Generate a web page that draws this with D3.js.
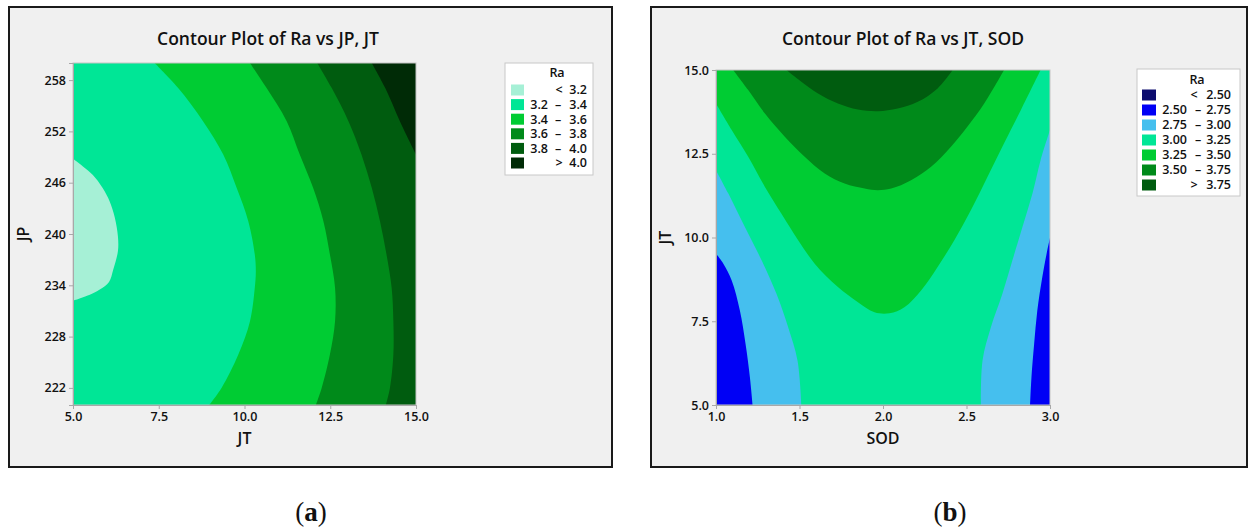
<!DOCTYPE html>
<html>
<head>
<meta charset="utf-8">
<script src="https://cdn.jsdelivr.net/npm/d3@7"></script>
<style>
  body { margin: 0; background: #fff; }
  text { font-family: "Open Sans", "Noto Sans", sans-serif; }
</style>
</head>
<body>
<svg width="1249" height="529"></svg>
<script>
// ---------- panel (a): Ra vs JP, JT ----------
const aBreaks = [3.2, 3.4, 3.6, 3.8, 4.0];
const aColors = ["#a6f0d6", "#00e696", "#00cc33", "#008a1a", "#005c0f", "#002b06"];
const aTicksX = [5, 7.5, 10, 12.5, 15];
const aTicksY = [222, 228, 234, 240, 246, 252, 258];

// contour lines, [JT, JP]
const aBelow32 = [[5, 248.8], [5.29, 247.9], [5.58, 246.9], [5.86, 245.4], [6.07, 243.8], [6.22, 241.9],
  [6.31, 239.7], [6.31, 238.0], [6.17, 235.8], [6.05, 234.4], [5.78, 233.5], [5.49, 232.9], [5, 232.2]];
const aAbove34 = [[7.38, 260], [8.06, 257.1], [8.79, 253.2], [9.38, 249.3], [9.77, 245.4], [10.11, 241.5],
  [10.3, 237.6], [10.33, 235.6], [10.3, 233.7], [10.16, 229.8], [9.82, 225.9], [9.33, 222.0], [8.97, 220]];
const aAbove36 = [[10.16, 260], [10.64, 257.1], [11.23, 253.2], [11.61, 249.3], [12.0, 245.4], [12.3, 241.5],
  [12.49, 237.6], [12.64, 233.7], [12.64, 229.8], [12.49, 225.9], [12.25, 222.0], [12.08, 220]];
const aAbove38 = [[12.12, 260], [12.54, 257.1], [13.03, 253.2], [13.41, 249.3], [13.71, 245.4], [13.95, 241.5],
  [14.14, 237.6], [14.29, 233.7], [14.34, 229.8], [14.34, 225.9], [14.24, 222.0], [14.12, 220]];
const aAbove40 = [[13.71, 260], [14.1, 257.1], [14.53, 253.2], [15, 249.3]];

// ---------- panel (b): Ra vs JT, SOD ----------
const bBreaks = [2.5, 2.75, 3.0, 3.25, 3.5, 3.75];
const bColors = ["#0c0c6e", "#0000f5", "#45bfee", "#00e696", "#00cc33", "#008a1a", "#005c0f"];
const bTicksX = [1, 1.5, 2, 2.5, 3];
const bTicksY = [5, 7.5, 10, 12.5, 15];

// [SOD, JT]
const bLeft275 = [[1.219, 5], [1.203, 5.83], [1.177, 6.82], [1.143, 7.82], [1.094, 8.72], [1.044, 9.22], [1, 9.52]];
const bRight275 = [[3, 9.99], [2.98, 9.52], [2.954, 8.82], [2.924, 7.82], [2.905, 6.82], [2.889, 5.83], [2.881, 5]];
const bLeft300 = [[1.511, 5], [1.488, 6.33], [1.432, 7.32], [1.362, 8.32], [1.273, 9.32], [1.173, 10.31], [1.074, 11.31], [1, 12.01]];
const bRight300 = [[3, 13.21], [2.944, 12.31], [2.895, 11.31], [2.835, 10.31], [2.775, 9.32], [2.715, 8.32], [2.646, 7.32], [2.596, 6.33], [2.586, 5]];
const bAbove325 = [[1, 14.0], [1.094, 13.21], [1.193, 12.41], [1.293, 11.51], [1.392, 10.71], [1.492, 9.92], [1.591, 9.22],
  [1.73, 8.52], [1.85, 8.07], [1.949, 7.77], [2.039, 7.74], [2.128, 7.92], [2.228, 8.42], [2.327, 9.12], [2.427, 9.92],
  [2.526, 10.81], [2.626, 11.81], [2.725, 12.81], [2.825, 13.8], [2.944, 15]];
const bAbove350 = [[1.103, 15], [1.193, 14.4], [1.293, 13.7], [1.412, 13.01], [1.531, 12.41], [1.651, 11.91], [1.77, 11.61],
  [1.89, 11.46], [1.969, 11.41], [2.049, 11.46], [2.168, 11.71], [2.288, 12.11], [2.407, 12.71], [2.506, 13.31], [2.606, 14.0], [2.725, 15]];
const bAbove375 = [[1.422, 15], [1.511, 14.65], [1.611, 14.3], [1.73, 14.0], [1.85, 13.82], [1.969, 13.77], [2.088, 13.85],
  [2.208, 14.05], [2.327, 14.45], [2.417, 15]];

const svg = d3.select("svg");

function drawPanel(o) {
  const g = svg.append("g");
  // frame
  g.append("rect").attr("x", o.frame[0]).attr("y", o.frame[1])
    .attr("width", o.frame[2]).attr("height", o.frame[3])
    .attr("fill", "#f0f0f0").attr("stroke", "#1a1a1a").attr("stroke-width", 2);

  const x = d3.scaleLinear().domain(o.xDomain).range(o.xRange);
  const y = d3.scaleLinear().domain(o.yDomain).range(o.yRange);
  const smooth = d3.line().x(d => x(d[0])).y(d => y(d[1])).curve(d3.curveCatmullRom);

  const clipId = "clip" + o.name;
  g.append("clipPath").attr("id", clipId).append("rect")
    .attr("x", o.xRange[0]).attr("y", o.yRange[1])
    .attr("width", o.xRange[1] - o.xRange[0]).attr("height", o.yRange[0] - o.yRange[1]);

  const plot = g.append("g").attr("clip-path", `url(#${clipId})`);
  plot.append("rect")
    .attr("x", o.xRange[0]).attr("y", o.yRange[1])
    .attr("width", o.xRange[1] - o.xRange[0]).attr("height", o.yRange[0] - o.yRange[1])
    .attr("fill", o.colors[o.baseIndex]);

  // each band: smooth contour parts, joined by straight runs along the plot edges
  o.regions.forEach(r => {
    let d = "";
    r.parts.forEach((part, i) => {
      if (part.edge) {
        d += part.edge.map(p => `L${x(p[0])},${y(p[1])}`).join("");
      } else {
        const s = smooth(part.line);
        d += i === 0 ? s : "L" + s.slice(1);
      }
    });
    plot.append("path").attr("d", d + "Z").attr("fill", o.colors[r.color]);
  });

  g.append("rect")
    .attr("x", o.xRange[0]).attr("y", o.yRange[1])
    .attr("width", o.xRange[1] - o.xRange[0]).attr("height", o.yRange[0] - o.yRange[1])
    .attr("fill", "none").attr("stroke", "#c4c4c4").attr("stroke-width", 1);

  const ax = g.append("g").attr("transform", `translate(0,${o.yRange[0]})`)
    .call(d3.axisBottom(x).tickValues(o.ticksX).tickFormat(d3.format(".1f")).tickSizeOuter(0).tickSize(4).tickPadding(3));
  const ay = g.append("g").attr("transform", `translate(${o.xRange[0]},0)`)
    .call(d3.axisLeft(y).tickValues(o.ticksY).tickFormat(o.tickFmt).tickSizeOuter(0).tickSize(4).tickPadding(3));
  [ax, ay].forEach(a => {
    a.select(".domain").attr("stroke", "#a8a8a8");
    a.selectAll(".tick line").attr("stroke", "#a8a8a8");
    a.selectAll(".tick text").attr("fill", "#111").attr("font-size", 12.5)
      .attr("font-weight", 600).style("font-family", '"Open Sans", sans-serif');
  });

  g.append("text").attr("x", o.title[1]).attr("y", o.title[2]).attr("text-anchor", "middle")
    .attr("font-size", 17.5).attr("font-weight", 600).attr("fill", "#111").text(o.title[0]);
  g.append("text").attr("x", (o.xRange[0] + o.xRange[1]) / 2).attr("y", 444).attr("text-anchor", "middle")
    .attr("font-size", 16).attr("font-weight", 600).attr("fill", "#111").text(o.xLabel);
  g.append("text").attr("transform", `translate(${o.yLabelX},${(o.yRange[0] + o.yRange[1]) / 2}) rotate(-90)`)
    .attr("text-anchor", "middle").attr("dy", "0.35em")
    .attr("font-size", 16).attr("font-weight", 600).attr("fill", "#111").text(o.yLabel);

  // legend
  const L = o.legend;
  g.append("rect").attr("x", L.box[0]).attr("y", L.box[1]).attr("width", L.box[2]).attr("height", L.box[3])
    .attr("fill", "#fff").attr("stroke", "#c8c8c8");
  g.append("text").attr("x", L.titleX).attr("y", L.titleY).attr("text-anchor", "middle").attr("dy", "0.35em")
    .attr("font-size", 12.5).attr("font-weight", 600).attr("fill", "#111").text("Ra");
  const n = o.colors.length;
  const bf = d3.format(L.fmt);
  o.colors.forEach((c, i) => {
    const ry = L.row0 + i * L.rowStep;
    g.append("rect").attr("x", L.swX).attr("y", ry - 5.5).attr("width", L.swW).attr("height", 11).attr("fill", c);
    const t = (tx, anchor, s) => g.append("text").attr("x", tx).attr("y", ry).attr("dy", "0.35em")
      .attr("text-anchor", anchor).attr("font-size", 12.5).attr("font-weight", 600).attr("fill", "#111").text(s);
    if (i === 0) {
      t(L.symX, "middle", "<");
      t(L.highX, "end", bf(o.breaks[0]));
    } else if (i === n - 1) {
      t(L.symX, "middle", ">");
      t(L.highX, "end", bf(o.breaks[n - 2]));
    } else {
      t(L.lowX, "end", bf(o.breaks[i - 1]));
      t(L.dashX, "middle", "–");
      t(L.highX, "end", bf(o.breaks[i]));
    }
  });

  // caption
  const cap = g.append("text").attr("x", o.caption[1]).attr("y", 521).attr("text-anchor", "middle")
    .attr("font-size", 27).attr("fill", "#111").style("font-family", '"Liberation Serif", "DejaVu Serif", serif');
  cap.append("tspan").text("(");
  cap.append("tspan").attr("font-weight", 700).text(o.caption[0]);
  cap.append("tspan").text(")");
}

drawPanel({
  name: "a",
  frame: [9, 7, 603, 460],
  xDomain: [5, 15], xRange: [73, 416],
  yDomain: [220, 260], yRange: [405, 63],
  ticksX: aTicksX, ticksY: aTicksY, tickFmt: d3.format("d"),
  colors: aColors, breaks: aBreaks, baseIndex: 1,
  regions: [
    { color: 0, parts: [{ line: aBelow32 }] },
    { color: 2, parts: [{ line: aAbove34 }, { edge: [[15, 220], [15, 260]] }] },
    { color: 3, parts: [{ line: aAbove36 }, { edge: [[15, 220], [15, 260]] }] },
    { color: 4, parts: [{ line: aAbove38 }, { edge: [[15, 220], [15, 260]] }] },
    { color: 5, parts: [{ line: aAbove40 }, { edge: [[15, 260]] }] }
  ],
  title: ["Contour Plot of Ra vs JP, JT", 268, 45],
  xLabel: "JT", yLabel: "JP", yLabelX: 23,
  legend: { box: [505, 63, 88, 112], titleX: 557, titleY: 73, row0: 90, rowStep: 14.6,
    swX: 511, swW: 13, lowX: 548, dashX: 558, highX: 587, symX: 559, fmt: ".1f" },
  caption: ["a", 311]
});

drawPanel({
  name: "b",
  frame: [651, 7, 596, 460],
  xDomain: [1, 3], xRange: [716, 1050],
  yDomain: [5, 15], yRange: [405, 70],
  ticksX: bTicksX, ticksY: bTicksY, tickFmt: d3.format(".1f"),
  colors: bColors, breaks: bBreaks, baseIndex: 1,
  regions: [
    { color: 2, parts: [{ line: bLeft275 }, { edge: [[1, 15], [3, 15]] }, { line: bRight275 }] },
    { color: 3, parts: [{ line: bLeft300 }, { edge: [[1, 15], [3, 15]] }, { line: bRight300 }] },
    { color: 4, parts: [{ line: bAbove325 }, { edge: [[1, 15]] }] },
    { color: 5, parts: [{ line: bAbove350 }] },
    { color: 6, parts: [{ line: bAbove375 }] }
  ],
  title: ["Contour Plot of Ra vs JT, SOD", 903, 45],
  xLabel: "SOD", yLabel: "JT", yLabelX: 665,
  legend: { box: [1137, 69, 103, 127], titleX: 1197, titleY: 80, row0: 95, rowStep: 15,
    swX: 1142, swW: 14, lowX: 1187, dashX: 1198, highX: 1231, symX: 1194, fmt: ".2f" },
  caption: ["b", 950]
});
</script>
</body>
</html>
